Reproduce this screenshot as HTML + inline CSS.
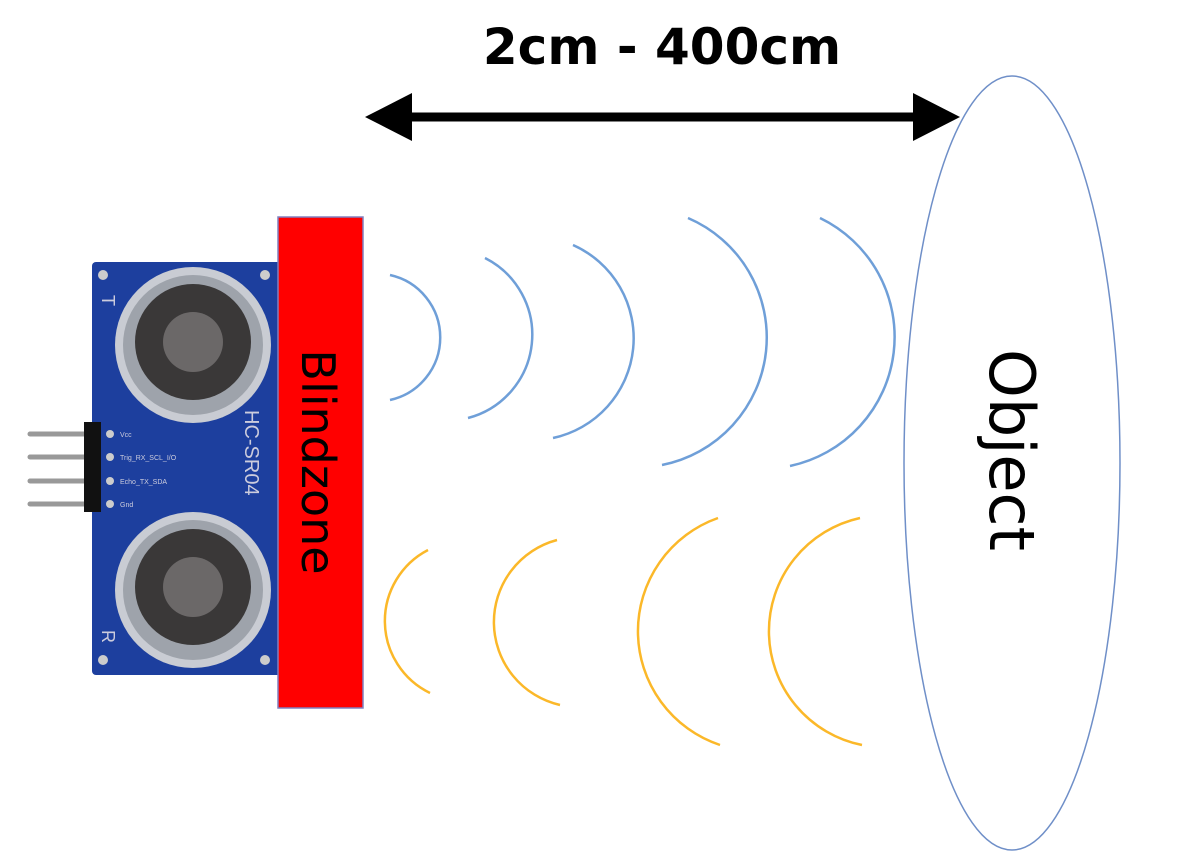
<!DOCTYPE html>
<html><head><style>
body{margin:0;width:1200px;height:865px;background:#fff;overflow:hidden}
svg{display:block}
</style></head><body>
<svg width="1200" height="865" viewBox="0 0 1200 865">
<g stroke="#999" stroke-width="5" stroke-linecap="round">
<line x1="30" y1="434" x2="92" y2="434"/><line x1="30" y1="457" x2="92" y2="457"/>
<line x1="30" y1="481" x2="92" y2="481"/><line x1="30" y1="504" x2="92" y2="504"/>
</g>
<rect x="92" y="262" width="190" height="413" rx="4" fill="#1d3f9e"/>
<rect x="84" y="422" width="17" height="90" fill="#111"/>
<g fill="#ccc"><circle cx="103" cy="275" r="5"/><circle cx="265" cy="275" r="5"/><circle cx="103" cy="660" r="5"/><circle cx="265" cy="660" r="5"/>
<circle cx="110" cy="434" r="4"/><circle cx="110" cy="457" r="4"/><circle cx="110" cy="481" r="4"/><circle cx="110" cy="504" r="4"/></g>
<g font-family="Liberation Sans,sans-serif" font-size="7" fill="#ccd">
<text x="120" y="437">Vcc</text><text x="120" y="460">Trig_RX_SCL_I/O</text><text x="120" y="484">Echo_TX_SDA</text><text x="120" y="507">Gnd</text></g>
<text x="0" y="0" transform="translate(245,410) rotate(90)" font-family="Liberation Sans,sans-serif" font-size="20" fill="#ccd">HC-SR04</text>
<text x="0" y="0" transform="translate(102,295) rotate(90)" font-family="Liberation Sans,sans-serif" font-size="18" fill="#ccd">T</text>
<text x="0" y="0" transform="translate(102,630) rotate(90)" font-family="Liberation Sans,sans-serif" font-size="18" fill="#ccd">R</text>
<g>
<circle cx="193" cy="345" r="78" fill="#c9ccd3"/><circle cx="193" cy="345" r="70" fill="#9ea3ab"/><circle cx="193" cy="342" r="58" fill="#3a3838"/><circle cx="193" cy="342" r="30" fill="#6b6868"/>
<circle cx="193" cy="590" r="78" fill="#c9ccd3"/><circle cx="193" cy="590" r="70" fill="#9ea3ab"/><circle cx="193" cy="587" r="58" fill="#3a3838"/><circle cx="193" cy="587" r="30" fill="#6b6868"/>
</g>
<rect x="278" y="217" width="85" height="491" fill="#ff0000" stroke="#8080c0" stroke-width="1.5"/>
<text transform="translate(302,462) rotate(90)" text-anchor="middle" font-family="'Comic Sans MS','DejaVu Sans',sans-serif" font-size="46" fill="#000">Blindzone</text>
<line x1="395" y1="117" x2="930" y2="117" stroke="#000" stroke-width="9"/>
<polygon points="365,117 412,93 412,141" fill="#000"/>
<polygon points="960,117 913,93 913,141" fill="#000"/>
<text x="662" y="64" text-anchor="middle" font-family="'Comic Sans MS','DejaVu Sans',sans-serif" font-weight="bold" font-size="50" fill="#000">2cm - 400cm</text>
<g fill="none" stroke="#6f9fd8" stroke-width="2.5">
<path d="M390,275 A64,64 0 0 1 390,400"/>
<path d="M485,258 A86,86 0 0 1 468,418"/>
<path d="M573,245 A102,102 0 0 1 553,438"/>
<path d="M688,218 A130,130 0 0 1 662,465"/>
<path d="M820,218 A132,132 0 0 1 790,466"/>
</g>
<g fill="none" stroke="#fbb829" stroke-width="2.5">
<path d="M428,550 A80,80 0 0 0 430,693"/>
<path d="M557,540 A85,85 0 0 0 560,705"/>
<path d="M718,518 A120,120 0 0 0 720,745"/>
<path d="M860,518 A116,116 0 0 0 862,745"/>
</g>
<ellipse cx="1012" cy="463" rx="108" ry="387" fill="#fff" stroke="#6f8fc8" stroke-width="1.5"/>
<text transform="translate(990,450) rotate(90)" text-anchor="middle" font-family="'Comic Sans MS','DejaVu Sans',sans-serif" font-size="62" fill="#000">Object</text>
</svg>
</body></html>
